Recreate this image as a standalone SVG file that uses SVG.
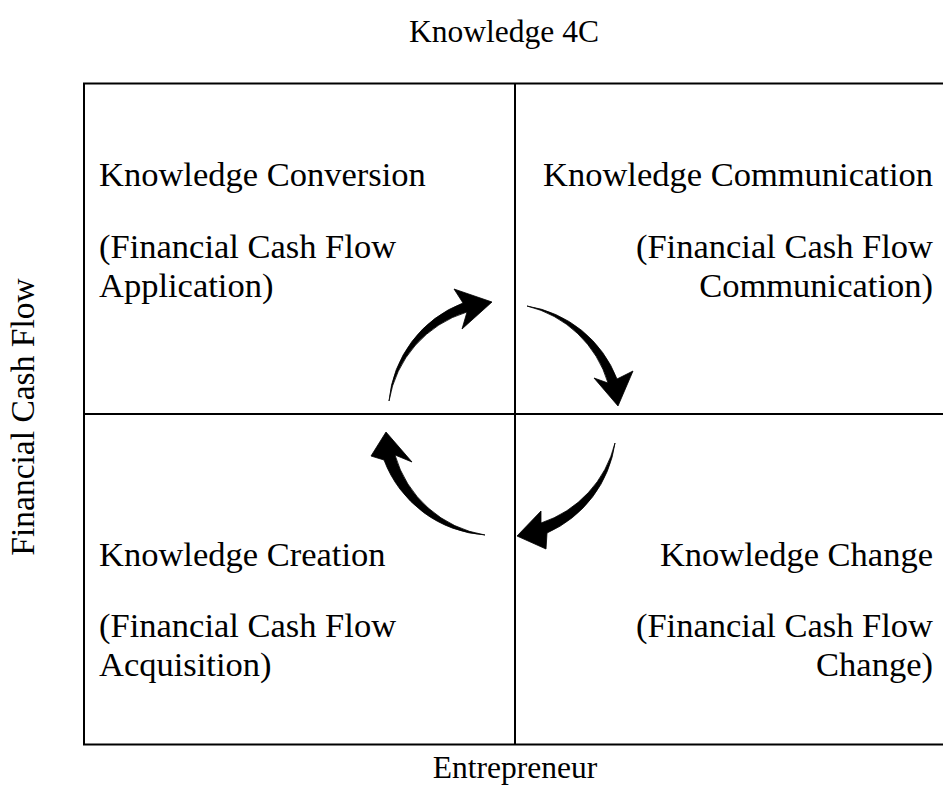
<svg xmlns="http://www.w3.org/2000/svg" width="943" height="789" viewBox="0 0 943 789">
  <style>
    text { font-family: "Liberation Serif", "Times New Roman", serif; fill: #000; }
    .q { font-size: 34.5px; }
    .axis { font-size: 31.5px; }
    .side { font-size: 33.5px; }
    .grid { fill: none; stroke: #000; stroke-width: 2; }
    .arrow { fill: #000; stroke: #000; stroke-width: 0.8; stroke-linejoin: round; }
  </style>
  <rect width="943" height="789" fill="#fff"/>

  <!-- quadrant frame -->
  <g id="frame">
    <path class="grid" d="M943,83.5 H84 V744.5 H943"/>
    <path class="grid" d="M515,83.5 V744.5"/>
    <path class="grid" d="M84,414 H943"/>
  </g>

  <!-- axis labels -->
  <g id="title"><text class="axis" x="504" y="42" text-anchor="middle">Knowledge 4C</text></g>
  <g id="x-axis"><text class="axis" x="515" y="778" text-anchor="middle">Entrepreneur</text></g>
  <g id="y-axis"><text class="side" transform="translate(34,417) rotate(-90)" text-anchor="middle">Financial Cash Flow</text></g>

  <!-- quadrants -->
  <g id="conversion">
    <text class="q" x="99" y="186">Knowledge Conversion</text>
    <text class="q" x="99" y="258">(Financial Cash Flow</text>
    <text class="q" x="99" y="297">Application)</text>
  </g>
  <g id="communication">
    <text class="q" x="933" y="186" text-anchor="end">Knowledge Communication</text>
    <text class="q" x="933" y="258" text-anchor="end">(Financial Cash Flow</text>
    <text class="q" x="933" y="297" text-anchor="end">Communication)</text>
  </g>
  <g id="creation">
    <text class="q" x="99" y="566">Knowledge Creation</text>
    <text class="q" x="99" y="637">(Financial Cash Flow</text>
    <text class="q" x="99" y="676">Acquisition)</text>
  </g>
  <g id="change">
    <text class="q" x="933" y="566" text-anchor="end">Knowledge Change</text>
    <text class="q" x="933" y="637" text-anchor="end">(Financial Cash Flow</text>
    <text class="q" x="933" y="676" text-anchor="end">Change)</text>
  </g>

  <!-- cycle connectors: tapered arcs with chevron heads -->
  <g id="connectors">
    <path class="arrow" d="M389,401 A116,116 0 0 1 463,303 L454,289 L492,302 L462,329 L467,312 A112,112 0 0 0 389,401 Z"/>
    <path class="arrow" d="M527,306 A116,116 0 0 1 617,379 L633,371 L618,406 L594,378 L608,383 A112,112 0 0 0 527,306 Z"/>
    <path class="arrow" d="M615,443 A116,116 0 0 1 547,533 L546,549 L517,536 L541,511 L541,523 A112,112 0 0 0 615,443 Z"/>
    <path class="arrow" d="M485,535 A116,116 0 0 1 384,460 L371,456 L386,432 L412,462 L395,455 A112,112 0 0 0 485,535 Z"/>
  </g>
</svg>
